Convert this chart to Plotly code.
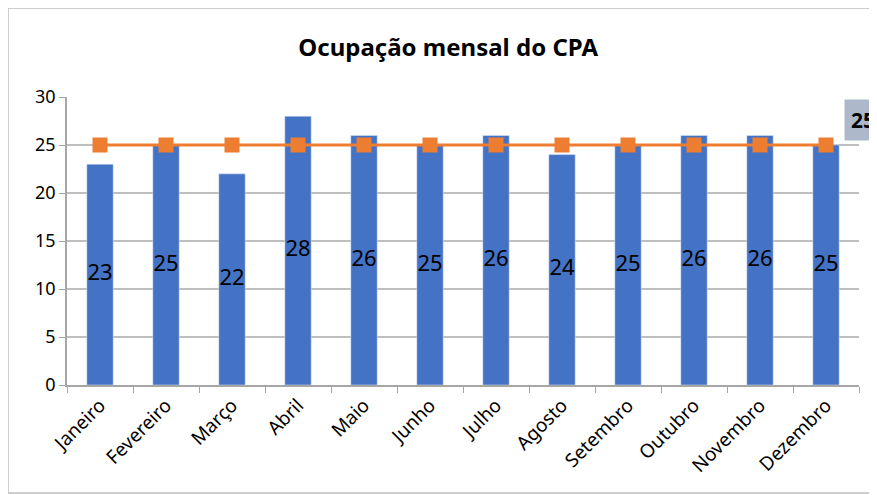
import plotly.graph_objects as go

meses = ["Janeiro", "Fevereiro", "Março", "Abril", "Maio", "Junho", "Julho",
         "Agosto", "Setembro", "Outubro", "Novembro", "Dezembro"]
ocupacao = [23, 25, 22, 28, 26, 25, 26, 24, 25, 26, 26, 25]
media = [25] * 12

fig = go.Figure()
fig.add_bar(x=meses, y=ocupacao, name="Ocupação", marker_color="#4472C4", width=0.4)
# rótulos no meio das barras
fig.add_scatter(x=meses, y=[v / 2 for v in ocupacao], mode="text", text=ocupacao,
                textfont=dict(color="black", size=22), hoverinfo="skip")
fig.add_scatter(x=meses, y=media, name="Média", mode="lines+markers",
                line=dict(color="#ED7D31", width=3),
                marker=dict(symbol="square", size=15, color="#ED7D31"))

fig.add_annotation(x=meses[-1], y=media[-1], text="<b>%d</b>" % media[-1], showarrow=False,
                   xshift=37, yshift=25, bgcolor="#ADB9CA", borderpad=6,
                   font=dict(size=21, color="black"))

# moldura do gráfico
fig.add_shape(type="rect", xref="paper", yref="paper", x0=-0.0745, x1=1.1, y0=-0.375, y1=1.309,
              line=dict(color="#BFBFBF", width=1.5), layer="below")

# a página desloca tudo 8px (margem do body), por isso l/t menores
fig.update_layout(
    width=877, height=495, showlegend=False,
    margin=dict(l=59, r=26, t=89, b=118, autoexpand=False),
    paper_bgcolor="white", plot_bgcolor="white",
    font=dict(family="Noto Sans", color="black", size=18),
    title=dict(text="<b>Ocupação mensal do CPA</b>", x=0.502, xanchor="center",
               y=0.921, yanchor="middle", font=dict(size=24, color="black")),
    bargap=0.6,
)
fig.update_xaxes(range=[-0.5, 11.5], tickangle=-45, showline=True, linecolor="#A6A6A6",
                 linewidth=1.5, ticks="outside", tickson="boundaries", ticklen=6,
                 tickcolor="#A6A6A6", tickfont=dict(size=19), automargin=False)
fig.update_yaxes(range=[0, 30], dtick=5, showgrid=True, gridcolor="#BFBFBF", gridwidth=1.5,
                 showline=True, linecolor="#A6A6A6", linewidth=1.5, ticks="outside",
                 ticklen=6, tickcolor="#A6A6A6", zeroline=False, tickfont=dict(size=18),
                 automargin=False)

fig.write_html("out.html")
